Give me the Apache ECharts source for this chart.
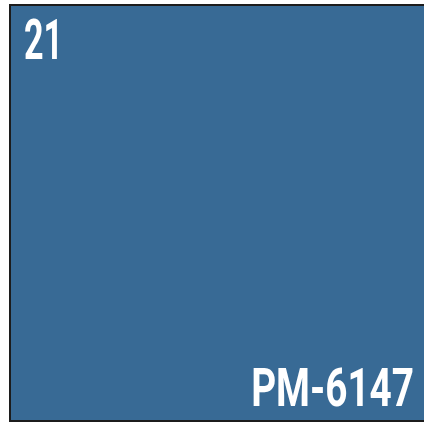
<!DOCTYPE html>
<html><head><meta charset="utf-8">
<script src="https://cdn.jsdelivr.net/npm/echarts@6/dist/echarts.min.js"></script>
<style>html,body{margin:0;padding:0;background:#fff;}#c{width:424px;height:426px;}</style>
</head><body><div id="c"></div>
<script>
const swatchNumber = "21";
const swatchCode = "PM-6147";
const swatchColor = "#386a95";

const chart = echarts.init(document.getElementById('c'), null, {renderer: 'canvas'});
chart.setOption({
  animation: false,
  graphic: [
    {type: 'rect', shape: {x: 10, y: 5, width: 424, height: 416},
     style: {fill: swatchColor, stroke: '#1c1c1c', lineWidth: 2}},
    {type: 'text', x: 24, y: 18, scaleX: 0.62,
     style: {text: swatchNumber, fill: '#ffffff', fontFamily: 'Roboto', fontWeight: 'bold', fontSize: 55,
             textAlign: 'left', textVerticalAlign: 'top'}},
    {type: 'text', x: 414, y: 366, scaleX: 0.73,
     style: {text: swatchCode, fill: '#ffffff', fontFamily: 'Roboto', fontWeight: 'bold', fontSize: 53,
             textAlign: 'right', textVerticalAlign: 'top'}}
  ]
});
</script></body></html>
